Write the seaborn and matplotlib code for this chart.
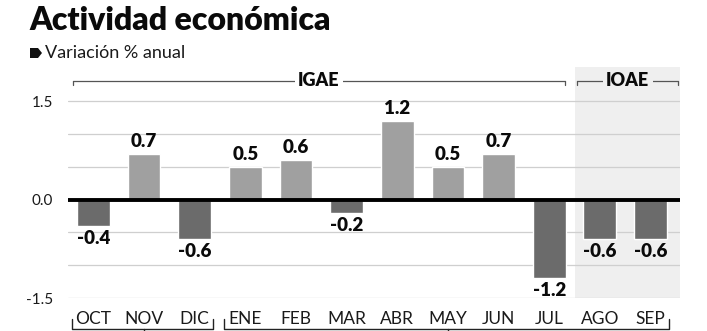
import matplotlib
matplotlib.use("Agg")
import matplotlib.pyplot as plt
import matplotlib.transforms as mtransforms
from matplotlib.patches import Polygon, Rectangle
import seaborn as sns
import pandas as pd

meses = ["OCT", "NOV", "DIC", "ENE", "FEB", "MAR", "ABR", "MAY", "JUN", "JUL", "AGO", "SEP"]
valores = [-0.4, 0.7, -0.6, 0.5, 0.6, -0.2, 1.2, 0.5, 0.7, -1.2, -0.6, -0.6]
etiquetas = ["-0.4", "0.7", "-0.6", "0.5", "0.6", "-0.2", "1.2", "0.5", "0.7", "-1.2", "-0.6", "-0.6"]
yticks = [-1.5, 0.0, 1.5]
ytick_labels = ["-1.5", "0.0", "1.5"]
grupos = [("IGAE", 0, 9), ("IOAE", 10, 11)]

df = pd.DataFrame({"mes": meses, "valor": valores})
df["signo"] = ["pos" if v >= 0 else "neg" for v in valores]

sns.set_theme(style="white")
plt.rcParams["font.family"] = ["Lato", "DejaVu Sans"]

fig = plt.figure(figsize=(7.07, 3.31), dpi=100)
ax = fig.add_axes([68 / 707, 1 - 298 / 331, 612 / 707, 231 / 331])

# shaded area for the IOAE months
ax.add_patch(Rectangle((9.5, -1.5), 2.1, 3.6, facecolor="#efefef", edgecolor="none", zorder=0))

# horizontal grid
for g in [-1.5, -1.0, -0.5, 0.5, 1.0, 1.5]:
    ax.axhline(g, color="#cfcfcf", lw=0.9, zorder=1)

sns.barplot(data=df, x="mes", y="valor", hue="signo", order=meses,
            palette={"pos": "#a0a0a0", "neg": "#6b6b6b"}, width=0.65,
            dodge=False, legend=False, saturation=1, ax=ax, zorder=2)

ax.axhline(0, color="black", lw=2.8, zorder=3)

ax.set_xlim(-0.5, 11.58)
ax.set_ylim(-1.5, 2.02)
ax.set_yticks(yticks)
ax.set_yticklabels(ytick_labels)
ax.set_xlabel("")
ax.set_ylabel("")
for s in ax.spines.values():
    s.set_visible(False)
ax.tick_params(axis="both", length=0, labelcolor="#1a1a1a")
ax.tick_params(axis="y", pad=11, labelsize=11)
ax.tick_params(axis="x", pad=9, labelsize=12.5)

# value labels
for i, (v, lab) in enumerate(zip(valores, etiquetas)):
    if v >= 0:
        ax.text(i, v + 0.06, lab, ha="center", va="bottom", fontsize=13.5, fontweight="heavy", color="#0a0a0a")
    else:
        ax.text(i, v - 0.06, lab, ha="center", va="top", fontsize=13.5, fontweight="heavy", color="#0a0a0a")

# group brackets at the top
yb = 1.81
for nombre, a, b in grupos:
    x0 = a - 0.41 if a == 0 else a - 0.45
    x1 = b + 0.31 if b == 9 else b + 0.54
    ax.plot([x0, x1], [yb, yb], color="#555555", lw=0.9, clip_on=False, zorder=4)
    ax.plot([x0, x0], [yb, yb - 0.06], color="#555555", lw=0.9, clip_on=False, zorder=4)
    ax.plot([x1, x1], [yb, yb - 0.06], color="#555555", lw=0.9, clip_on=False, zorder=4)
    fondo = "white" if nombre == "IGAE" else "#efefef"
    ax.text((x0 + x1) / 2, yb, nombre, ha="center", va="center", fontsize=13,
            fontweight="heavy", color="#0a0a0a", zorder=5,
            bbox=dict(facecolor=fondo, edgecolor="none", pad=2.5))

# year brackets under the month labels
trans = mtransforms.blended_transform_factory(ax.transData, fig.transFigure)
y_line = 1 - 329 / 331
y_top = 1 - 319 / 331
for a, b in [(0, 2), (3, 11)]:
    x0, x1 = a - 0.42, b + 0.37
    xm = (a + b) / 2
    ax.plot([x0, x0, x1, x1], [y_top, y_line, y_line, y_top], color="#222222", lw=1.0,
            transform=trans, clip_on=False)
    ax.plot([xm, xm], [y_line, 0], color="#222222", lw=1.0, transform=trans, clip_on=False)

# title and subtitle
fig.text(29 / 707, 1 - 20 / 331, "Actividad económica", ha="left", va="center",
         fontsize=23, fontweight="heavy", color="#0a0a0a")
fig.text(45 / 707, 1 - 53 / 331, "Variación % anual", ha="left", va="center",
         fontsize=13, color="#1a1a1a")
bx, by = 30, 53
pts = [(bx, by - 5), (bx + 8, by - 5), (bx + 12, by), (bx + 8, by + 5), (bx, by + 5)]
fig.add_artist(Polygon([(x / 707, 1 - y / 331) for x, y in pts], closed=True,
                       facecolor="#111111", edgecolor="none", transform=fig.transFigure))

fig.savefig("out.png", dpi=100)
